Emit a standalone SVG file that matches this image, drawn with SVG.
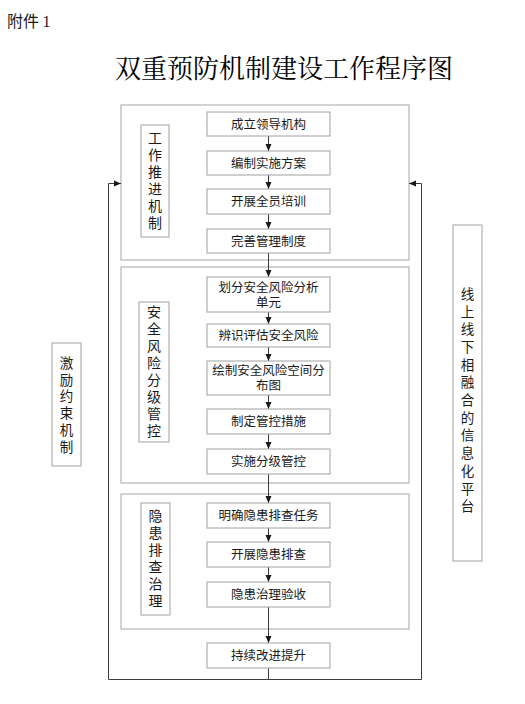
<svg xmlns="http://www.w3.org/2000/svg" width="525" height="704" viewBox="0 0 525 704">
<defs>
<style>
.sec{fill:#fff;stroke:#a6a6a6;stroke-width:1}
.box{fill:#fff;stroke:#a0a0a0;stroke-width:1}
.t{font-family:"Noto Sans CJK SC","Liberation Sans",sans-serif;font-size:12.5px;fill:#1a1a1a;text-anchor:middle}
.v{font-family:"Noto Sans CJK SC","Liberation Sans",sans-serif;font-size:14px;fill:#1a1a1a;writing-mode:vertical-rl;letter-spacing:3px}
.c{fill:none;stroke:#3c3c3c;stroke-width:1}
</style>
<marker id="ah" markerUnits="userSpaceOnUse" markerWidth="8" markerHeight="8" viewBox="0 0 8 8" refX="7" refY="4" orient="auto">
<path d="M0,1 L7,4 L0,7 Z" fill="#1a1a1a"/>
</marker>
</defs>
<rect width="525" height="704" fill="#fff"/>
<text x="7" y="27" font-family="Noto Sans CJK SC,sans-serif" font-size="16" fill="#1a1a1a">附件 <tspan font-family="Liberation Serif,serif">1</tspan></text>
<text x="284" y="78" font-family="'Noto Serif CJK SC','Noto Sans CJK SC',serif" font-size="26" fill="#000" text-anchor="middle">双重预防机制建设工作程序图</text>

<g id="sec1"><rect class="sec" x="121" y="105" width="288" height="155"/></g>
<g id="sec2"><rect class="sec" x="121" y="267" width="288" height="216"/></g>
<g id="sec3"><rect class="sec" x="121" y="494" width="288" height="135"/></g>

<g id="connectors">
<line class="c" x1="268.5" y1="136" x2="268.5" y2="151" marker-end="url(#ah)"/>
<line class="c" x1="268.5" y1="175" x2="268.5" y2="189" marker-end="url(#ah)"/>
<line class="c" x1="268.5" y1="214" x2="268.5" y2="229" marker-end="url(#ah)"/>
<line class="c" x1="268.5" y1="253" x2="268.5" y2="277" marker-end="url(#ah)"/>
<line class="c" x1="268.5" y1="312" x2="268.5" y2="324" marker-end="url(#ah)"/>
<line class="c" x1="268.5" y1="347" x2="268.5" y2="361" marker-end="url(#ah)"/>
<line class="c" x1="268.5" y1="395" x2="268.5" y2="409" marker-end="url(#ah)"/>
<line class="c" x1="268.5" y1="434" x2="268.5" y2="449" marker-end="url(#ah)"/>
<line class="c" x1="268.5" y1="474" x2="268.5" y2="503" marker-end="url(#ah)"/>
<line class="c" x1="268.5" y1="528" x2="268.5" y2="542" marker-end="url(#ah)"/>
<line class="c" x1="268.5" y1="567" x2="268.5" y2="582" marker-end="url(#ah)"/>
<line class="c" x1="268.5" y1="607" x2="268.5" y2="643" marker-end="url(#ah)"/>
<line class="c" x1="268.5" y1="668" x2="268.5" y2="679.5"/>
<polyline class="c" points="121,183.5 108.5,183.5 108.5,679.5 421.5,679.5 421.5,183.5 409,183.5"/>
<line class="c" x1="110" y1="183.5" x2="121" y2="183.5" marker-end="url(#ah)"/>
<line class="c" x1="420" y1="183.5" x2="409" y2="183.5" marker-end="url(#ah)"/>
</g>

<g id="n1"><rect class="box" x="207" y="112" width="123" height="24"/><text class="t" x="268.5" y="128.5">成立领导机构</text></g>
<g id="n2"><rect class="box" x="207" y="151" width="123" height="24"/><text class="t" x="268.5" y="167.5">编制实施方案</text></g>
<g id="n3"><rect class="box" x="207" y="189" width="123" height="25"/><text class="t" x="268.5" y="206">开展全员培训</text></g>
<g id="n4"><rect class="box" x="207" y="229" width="123" height="24"/><text class="t" x="268.5" y="245.5">完善管理制度</text></g>
<g id="l1"><rect class="box" x="141" y="125" width="28" height="112"/>
<text class="v" x="155" y="131">工作推进机制</text></g>

<g id="n5"><rect class="box" x="207" y="277" width="123" height="35"/><text class="t" x="268.5" y="292">划分安全风险分析</text><text class="t" x="268.5" y="307">单元</text></g>
<g id="n6"><rect class="box" x="207" y="324" width="123" height="23"/><text class="t" x="268.5" y="340">辨识评估安全风险</text></g>
<g id="n7"><rect class="box" x="207" y="361" width="123" height="34"/><text class="t" x="268.5" y="375">绘制安全风险空间分</text><text class="t" x="268.5" y="390">布图</text></g>
<g id="n8"><rect class="box" x="207" y="409" width="123" height="25"/><text class="t" x="268.5" y="426">制定管控措施</text></g>
<g id="n9"><rect class="box" x="207" y="449" width="123" height="25"/><text class="t" x="268.5" y="466">实施分级管控</text></g>
<g id="l2"><rect class="box" x="139" y="302" width="30" height="140"/>
<text class="v" x="154" y="305">安全风险分级管控</text></g>

<g id="n10"><rect class="box" x="207" y="503" width="123" height="25"/><text class="t" x="268.5" y="520">明确隐患排查任务</text></g>
<g id="n11"><rect class="box" x="207" y="542" width="123" height="25"/><text class="t" x="268.5" y="559">开展隐患排查</text></g>
<g id="n12"><rect class="box" x="207" y="582" width="123" height="25"/><text class="t" x="268.5" y="599">隐患治理验收</text></g>
<g id="l3"><rect class="box" x="141" y="503" width="29" height="112"/>
<text class="v" x="155.5" y="509">隐患排查治理</text></g>

<g id="n13"><rect class="box" x="207" y="643" width="123" height="25"/><text class="t" x="268.5" y="660">持续改进提升</text></g>

<g id="lleft"><rect class="box" x="52" y="343" width="29" height="123"/>
<text class="v" x="66.5" y="356" style="font-size:13.5px;letter-spacing:3.3px">激励约束机制</text></g>

<g id="lright"><rect class="box" x="453" y="225" width="29" height="336"/>
<text class="v" x="467.5" y="287" style="font-size:13.5px;letter-spacing:4.2px">线上线下相融合的信息化平台</text></g>
</svg>
